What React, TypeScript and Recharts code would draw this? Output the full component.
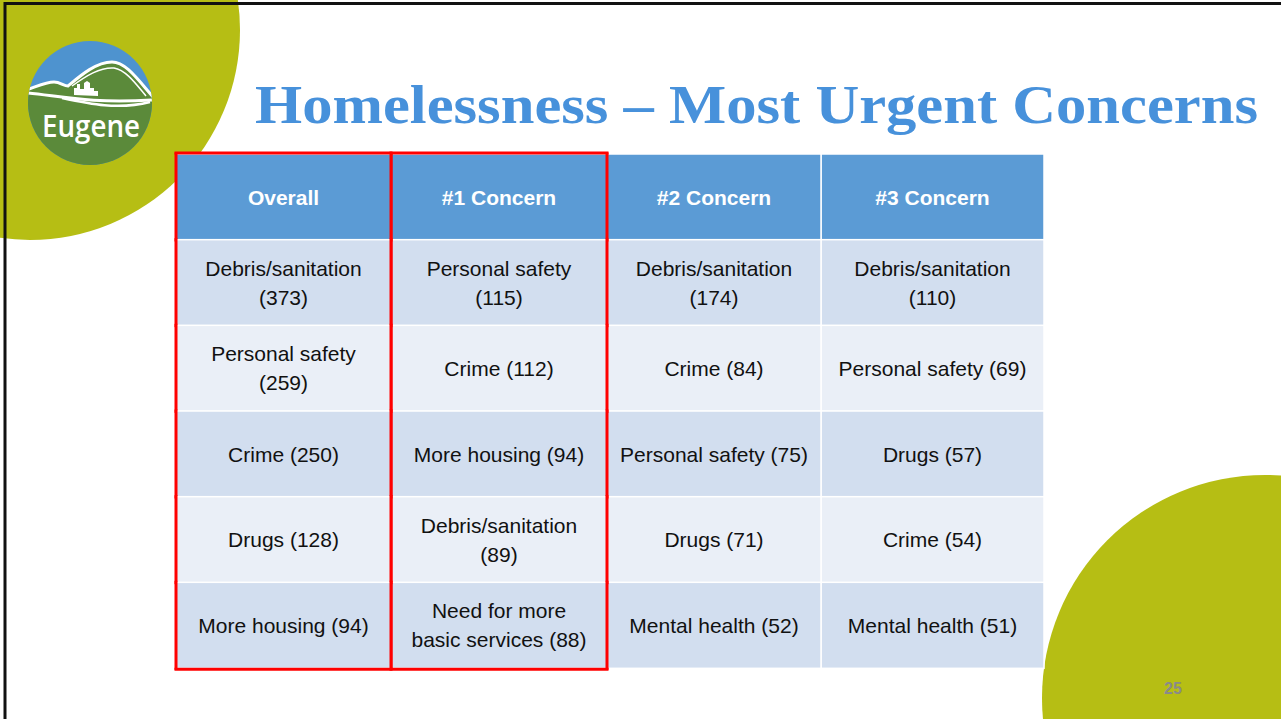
import { BarChart, Bar, XAxis, YAxis } from "recharts";

// column headers and cell texts (line breaks where the slide wraps them)
const headers = ["Overall", "#1 Concern", "#2 Concern", "#3 Concern"];
const overall = [
  "Debris/sanitation\n(373)",
  "Personal safety\n(259)",
  "Crime (250)",
  "Drugs (128)",
  "More housing (94)",
];
const concern1 = [
  "Personal safety\n(115)",
  "Crime (112)",
  "More housing (94)",
  "Debris/sanitation\n(89)",
  "Need for more\nbasic services (88)",
];
const concern2 = [
  "Debris/sanitation\n(174)",
  "Crime (84)",
  "Personal safety (75)",
  "Drugs (71)",
  "Mental health (52)",
];
const concern3 = [
  "Debris/sanitation\n(110)",
  "Personal safety (69)",
  "Drugs (57)",
  "Crime (54)",
  "Mental health (51)",
];
// columns outlined in red on the slide
const highlighted = [0, 1];

const rows = [
  { row: "header", cells: headers },
  ...overall.map((_, i) => ({
    row: `r${i}`,
    cells: [overall[i], concern1[i], concern2[i], concern3[i]],
  })),
];

// table layout: relative column widths
const colWidths = [215, 216, 214, 223];
const tableWidth = colWidths.reduce((a, b) => a + b, 0);

const HEADER_BLUE = "#5B9BD5";
const BAND_DARK = "#D2DEEF";
const BAND_LIGHT = "#EAEFF7";
const OLIVE = "#B6BE14";
const RED = "#FF0000";

const cellShape = (col: number) => (props: any) => {
  let { x, y, width, height } = props;
  const { index } = props;
  if (width < 0) {
    x += width;
    width = -width;
  }
  const isHeader = index === 0;
  const last = index === rows.length - 1;
  const fill = isHeader ? HEADER_BLUE : index % 2 === 1 ? BAND_DARK : BAND_LIGHT;
  const lines: string[] = rows[index].cells[col].split("\n");
  const cx = x + width / 2;
  const cy = y + height / 2;
  const lh = 29;
  const red = highlighted.includes(col);
  return (
    <g>
      <rect x={x} y={y} width={width} height={height} fill={fill} stroke="#fff" strokeWidth={1.5} />
      {lines.map((t, i) => (
        <text
          key={i}
          x={cx}
          y={cy + (i - (lines.length - 1) / 2) * lh + 7.5}
          textAnchor="middle"
          fontFamily="'Liberation Sans', Arial, sans-serif"
          fontSize={21}
          fontWeight={isHeader ? 700 : 400}
          fill={isHeader ? "#fff" : "#111"}
        >
          {t}
        </text>
      ))}
      {red && (
        <g stroke={RED} strokeWidth={3}>
          <line x1={x} y1={y - 1.5} x2={x} y2={y + height + 1.5} />
          <line x1={x + width} y1={y - 1.5} x2={x + width} y2={y + height + 1.5} />
          {isHeader && <line x1={x - 1.5} y1={y - 1} x2={x + width + 1.5} y2={y - 1} />}
          {last && <line x1={x - 1.5} y1={y + height + 1} x2={x + width + 1.5} y2={y + height + 1} />}
        </g>
      )}
    </g>
  );
};

function Backdrop() {
  return (
    <svg width={1281} height={719} style={{ position: "absolute", left: 0, top: 0 }}>
      <rect width={1281} height={719} fill="#fff" />
      <circle cx={30} cy={30} r={210} fill={OLIVE} />
      <circle cx={1265} cy={698} r={223} fill={OLIVE} />
      <line x1={4} y1={3.5} x2={1281} y2={3.5} stroke="#111" strokeWidth={3} />
      <line x1={5} y1={2} x2={5} y2={719} stroke="#111" strokeWidth={3} />

      {/* Eugene logo */}
      <defs>
        <clipPath id="logoClip">
          <circle cx={90} cy={103} r={62} />
        </clipPath>
      </defs>
      <g clipPath="url(#logoClip)">
        <rect x={26} y={39} width={128} height={128} fill="#4E93CF" />
        <path
          d="M26 90 C38 86 46 82 54 82 C60 82 64 86 68 86 C80 76 96 62 112 62 C126 62 138 80 154 98 L154 170 L26 170 Z"
          fill="#5B8A3A"
        />
        <path
          d="M26 90 C38 86 46 82 54 82 C60 82 64 86 68 86 C80 76 96 62 112 62 C126 62 138 80 154 98"
          fill="none"
          stroke="#fff"
          strokeWidth={3}
        />
        <path d="M72 86 C86 76 100 67 114 68 C126 70 136 84 146 96" fill="none" stroke="#fff" strokeWidth={1.5} />
        <path d="M28 93 C60 96 90 104 152 100" fill="none" stroke="#fff" strokeWidth={3} />
        <path d="M62 98 C90 104 118 110 150 102" fill="none" stroke="#fff" strokeWidth={2.5} />
        <path d="M74 95 L74 88 L77 88 L77 84 L80 84 L80 89 L84 89 L84 83 L87 81 L90 83 L90 88 L94 88 L94 91 L98 91 L98 96 Z" fill="#fff" />
      </g>
      <text
        x={91}
        y={137}
        textAnchor="middle"
        fontFamily="'Open Sans', sans-serif"
        fontWeight={600}
        fontSize={31}
        textLength={98}
        lengthAdjust="spacingAndGlyphs"
        fill="#fff"
      >
        Eugene
      </text>

      <text
        x={255}
        y={123}
        fontFamily="'Liberation Serif', serif"
        fontWeight={700}
        fontSize={55}
        textLength={1003}
        lengthAdjust="spacingAndGlyphs"
        fill="#4791DB"
      >
        Homelessness – Most Urgent Concerns
      </text>

      <text
        x={1173}
        y={694}
        textAnchor="middle"
        fontFamily="'Liberation Sans', Arial, sans-serif"
        fontWeight={700}
        fontSize={16}
        fill="#8A8A8A"
      >
        25
      </text>
    </svg>
  );
}

export default function App() {
  // bars are stacked right-to-left on a reversed axis so the red-outlined
  // columns on the left are painted last
  const order = [3, 2, 1, 0];
  return (
    <div
      style={{
        position: "absolute",
        left: 0,
        top: 0,
        width: 1281,
        height: 719,
        overflow: "hidden",
      }}
    >
      <Backdrop />
      <div style={{ position: "absolute", left: 0, top: 0 }}>
        <BarChart
          width={1281}
          height={719}
          data={rows}
          layout="vertical"
          barCategoryGap={0}
          margin={{ top: 154, right: 237, bottom: 51, left: 176 }}
        >
          <XAxis type="number" domain={[0, tableWidth]} reversed hide />
          <YAxis type="category" dataKey="row" hide />
          {order.map((col) => (
            <Bar
              key={headers[col]}
              dataKey={() => colWidths[col]}
              stackId="table"
              shape={cellShape(col)}
              isAnimationActive={false}
            />
          ))}
        </BarChart>
      </div>
    </div>
  );
}
